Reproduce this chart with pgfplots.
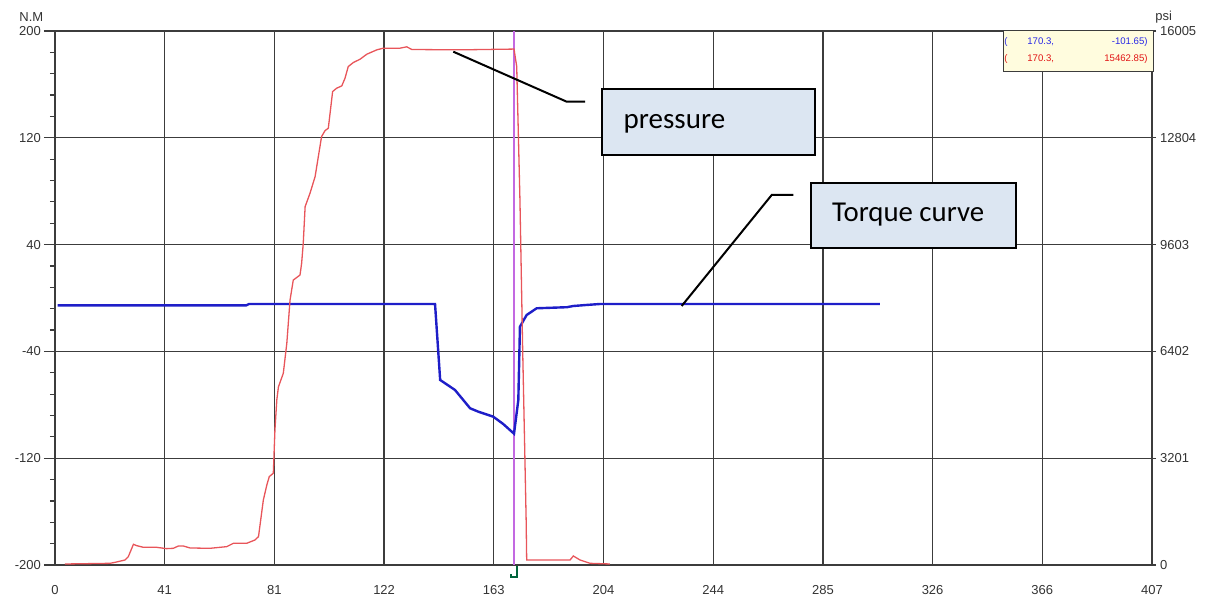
\documentclass[border=0pt]{standalone}
\usepackage{pgfplots}
\pgfplotsset{compat=1.18}
\usepackage{fontspec}
\setmainfont{Liberation Sans}
\newfontfamily\calibri{Carlito}
\definecolor{gridc}{RGB}{60,60,60}
\definecolor{pres}{RGB}{232,85,90}
\definecolor{torq}{RGB}{30,30,200}
\definecolor{cursorc}{RGB}{195,105,225}
\definecolor{boxfill}{RGB}{220,230,242}
\definecolor{readfill}{RGB}{255,252,222}
\definecolor{readblue}{RGB}{40,40,230}
\definecolor{readred}{RGB}{225,20,20}
\definecolor{brk}{RGB}{0,100,60}
\begin{document}
\begin{tikzpicture}
\useasboundingbox (0,0) rectangle (603.5pt,299.5pt);
\begin{axis}[
  at={(27.5pt,17pt)}, anchor=south west,
  scale only axis, width=548.5pt, height=267pt,
  xmin=0, xmax=407, ymin=-200, ymax=200,
  xtick={0,40.7,81.4,122.1,162.8,203.5,244.2,284.9,325.6,366.3,407},
  xticklabels={0,41,81,122,163,204,244,285,326,366,407},
  ytick={-200,-120,-40,40,120,200},
  yticklabels={-200,-120,-40,40,120,200},
  minor y tick num=4,
  grid=major,
  major grid style={draw=gridc, line width=0.65pt},
  axis line style={draw=gridc, line width=0.7pt},
  tick align=outside,
  xtick pos=bottom, ytick pos=left,
  major tick length=5.5pt, minor tick length=2.5pt,
  xtick style={draw=none},
  ytick style={draw=gridc, line width=0.6pt},
  tick label style={font=\fontsize{6.5}{7.5}\selectfont, text=black!80},
  xticklabel style={yshift=-1pt},
  yticklabel style={xshift=2pt},
  clip=false,
]
\addplot[cursorc, line width=0.7pt] coordinates {(170.3,-200)(170.3,200)};
\addplot[torq, line width=1.2pt] coordinates {
(1,-5.5)(71,-5.5)(72,-4.5)(141.0,-4.5)(142.9,-61.4)(148.4,-68.9)(154.0,-82.6)
(157.1,-85.2)(162.6,-88.9)(166.3,-94.4)(170.3,-101.65)(171.9,-76.4)(172.5,-21.5)
(175.0,-12.7)(178.7,-7.7)(189.9,-6.9)(192.3,-6.0)(197.3,-5.2)(202.2,-4.5)(306,-4.5)};
\end{axis}
\begin{axis}[
  at={(27.5pt,17pt)}, anchor=south west,
  scale only axis, width=548.5pt, height=267pt,
  xmin=0, xmax=407, ymin=0, ymax=16005,
  axis x line=none, axis y line*=right,
  ytick={0,3201,6402,9603,12804,16005},
  yticklabels={0,3201,6402,9603,12804,16005},
  scaled y ticks=false,
  tick align=outside, major tick length=2pt,
  ytick style={draw=gridc, line width=0.6pt},
  axis line style={draw=gridc, line width=0.7pt},
  tick label style={font=\fontsize{6.5}{7.5}\selectfont, text=black!80},
  yticklabel style={xshift=-1.5pt},
]
\addplot[pres, line width=0.65pt] coordinates {
(3.7,30)(20.4,50)(22.3,80)(26,150)(27.2,250)(29.1,620)(30.3,580)(32.8,530)(37.7,530)
(41.4,490)(43.9,500)(45.8,570)(47.6,570)(50.1,510)(57.5,500)(63.7,550)(66.2,650)
(71.1,650)(74.2,750)(75.5,850)(77.3,1950)(78.6,2400)(79.5,2650)(81.0,2750)(81.6,4050)
(82.3,4950)(82.9,5340)(84.7,5745)(86.0,6640)(87.2,7940)(88.4,8540)(90.9,8690)(91.5,9040)
(92.1,9640)(92.8,10740)(94.6,11140)(96.5,11640)(98.9,12840)(100.2,13020)(101.4,13090)
(103.0,14190)(104.5,14290)(106.4,14360)(107.6,14590)(108.8,14940)(110.7,15060)
(113.2,15160)(115.7,15310)(119.4,15440)(121.8,15490)(128.0,15490)(130.5,15530)
(132.4,15450)(150.3,15440)(170.3,15463)(171.3,14940)(172.5,10940)(173.5,6500)
(174.2,3750)(174.8,1350)(175.0,150)(191.1,150)(192.3,270)(194.8,150)(198.5,50)(205.9,30)};
\end{axis}
% axis titles
\node[anchor=east, inner sep=0pt, font=\fontsize{6.5}{7.5}\selectfont, text=black!80] at (21.8pt,291pt) {N.M};
\node[anchor=west, inner sep=0pt, font=\fontsize{6.5}{7.5}\selectfont, text=black!80] at (577.5pt,291pt) {psi};
% cursor readout box
\draw[gridc, line width=0.5pt, fill=readfill] (501.5pt,263.5pt) rectangle (576.5pt,284.3pt);
\begin{scope}[font=\fontsize{4.8}{5.5}\selectfont]
\node[anchor=west, inner sep=0pt, text=readblue] at (502pt,278.5pt) {(};
\node[anchor=west, inner sep=0pt, text=readblue] at (513.5pt,278.5pt) {170.3,};
\node[anchor=east, inner sep=0pt, text=readblue] at (574pt,278.5pt) {-101.65)};
\node[anchor=west, inner sep=0pt, text=readred] at (502pt,270pt) {(};
\node[anchor=west, inner sep=0pt, text=readred] at (513.5pt,270pt) {170.3,};
\node[anchor=east, inner sep=0pt, text=readred] at (574pt,270pt) {15462.85)};
\end{scope}
% cursor bracket
\draw[brk, line width=0.6pt] (258.5pt,16.5pt)--(258.5pt,11pt)--(255.5pt,11pt)--(255.5pt,12.5pt);
% pressure callout
\draw[black, line width=1pt] (226.65pt,273.65pt)--(283.35pt,248.65pt)--(292.5pt,248.65pt);
\draw[black, line width=1pt, fill=boxfill] (301pt,222pt) rectangle (407.5pt,255pt);
\node[anchor=base west, inner sep=0pt, font=\calibri\fontsize{14.5}{16}\selectfont] at (311.65pt,235.35pt) {pressure};
% torque callout
\draw[black, line width=1pt] (340.85pt,146.5pt)--(385.85pt,202pt)--(396.65pt,202pt);
\draw[black, line width=1pt, fill=boxfill] (405.35pt,175.35pt) rectangle (508pt,207.85pt);
\node[anchor=base west, inner sep=0pt, font=\calibri\fontsize{14.4}{16}\selectfont] at (415.85pt,188.65pt) {Torque curve};
\end{tikzpicture}
\end{document}
